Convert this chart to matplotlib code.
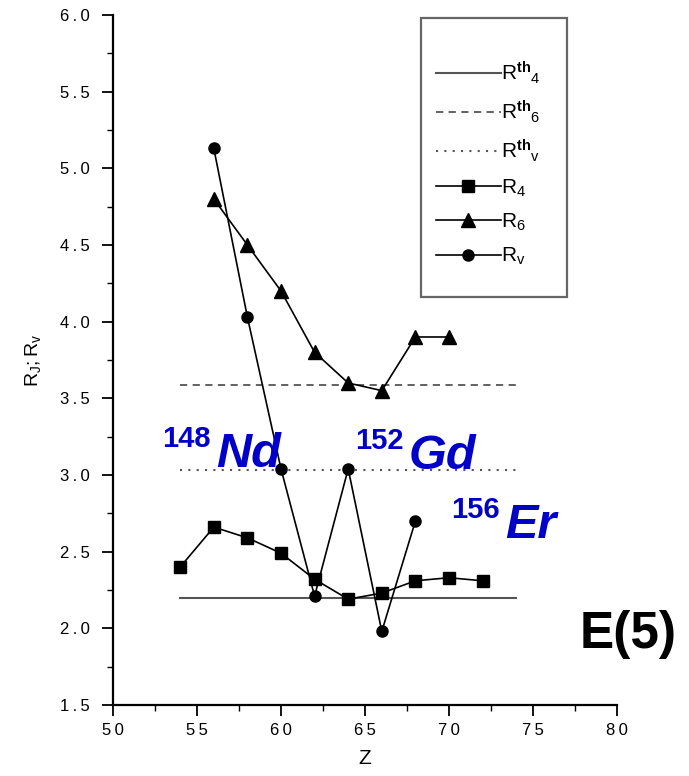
"""R_4, R_6 and R_v ratios along Z, compared with the E(5) predictions."""
import matplotlib
matplotlib.use('Agg')
import matplotlib.pyplot as plt
from matplotlib.patches import Rectangle
from matplotlib.ticker import MultipleLocator, FuncFormatter

plt.rcParams['font.family'] = ['Liberation Sans', 'DejaVu Sans']
plt.rcParams['mathtext.fontset'] = 'custom'
plt.rcParams['mathtext.rm'] = 'Liberation Sans'
plt.rcParams['mathtext.it'] = 'Liberation Sans'
plt.rcParams['mathtext.bf'] = 'Liberation Sans:bold'

# experimental ratios
z_r4 = [54, 56, 58, 60, 62, 64, 66, 68, 70, 72]
r4 = [2.40, 2.66, 2.59, 2.49, 2.32, 2.19, 2.23, 2.31, 2.33, 2.31]
z_r6 = [56, 58, 60, 62, 64, 66, 68, 70]
r6 = [4.80, 4.50, 4.20, 3.80, 3.60, 3.55, 3.90, 3.90]
z_rv = [56, 58, 60, 62, 64, 66, 68]
rv = [5.13, 4.03, 3.04, 2.21, 3.04, 1.98, 2.70]

# E(5) predictions, drawn as flat lines over the Z range
z_th = [54, 74]
r4_th = 2.20
r6_th = 3.59
rv_th = 3.03

# isotope labels: mass number, symbol, Z and ratio where the label starts
iso_mass = ['148', '152', '156']
iso_sym = ['Nd', 'Gd', 'Er']
iso_z = [52.9, 64.4, 70.1]
iso_r = [3.18, 3.17, 2.72]


def spaced(fmt):
    # old plotting packages print tick numbers with wide letter spacing
    return FuncFormatter(lambda v, pos: '\u2009'.join(fmt % v))


fig = plt.figure(figsize=(6.89, 7.76), dpi=100)
ax = fig.add_axes([0.164, 0.0915, 0.7315, 0.8892])

gray = '#555555'
ax.plot(z_th, [r4_th] * 2, color=gray, lw=1.5, label=r'$\mathrm{R}^{\mathbf{th}}{}_{4}$')
ax.plot(z_th, [r6_th] * 2, color=gray, lw=1.3, ls=(0, (4, 3)), label=r'$\mathrm{R}^{\mathbf{th}}{}_{6}$')
ax.plot(z_th, [rv_th] * 2, color=gray, lw=1.5, ls=(0, (1, 3)), label=r'$\mathrm{R}^{\mathbf{th}}{}_{\mathrm{v}}$')
ax.plot(z_r4, r4, color='black', lw=1.2, marker='s', ms=8, label=r'$\mathrm{R}_{4}$')
ax.plot(z_r6, r6, color='black', lw=1.2, marker='^', ms=9.5, label=r'$\mathrm{R}_{6}$')
ax.plot(z_rv, rv, color='black', lw=1.2, marker='o', ms=8, label=r'$\mathrm{R}_{\mathrm{v}}$')

ax.set_xlim(50, 80)
ax.set_ylim(1.5, 6.0)
ax.xaxis.set_major_locator(MultipleLocator(5))
ax.xaxis.set_minor_locator(MultipleLocator(2.5))
ax.yaxis.set_major_locator(MultipleLocator(0.5))
ax.yaxis.set_minor_locator(MultipleLocator(0.25))
ax.xaxis.set_major_formatter(spaced('%d'))
ax.yaxis.set_major_formatter(spaced('%.1f'))
for side in ('top', 'right'):
    ax.spines[side].set_visible(False)
for side in ('left', 'bottom'):
    ax.spines[side].set_linewidth(1.6)
ax.tick_params(which='major', direction='out', length=8, width=1.3, labelsize=12, pad=5)
ax.tick_params(axis='y', which='major', pad=9)
ax.tick_params(which='minor', direction='out', length=4, width=1.0)
ax.set_xlabel('Z', fontsize=15, labelpad=8)
ax.set_ylabel(r'$\mathrm{R_{J};R_{v}}$', fontsize=14, labelpad=12)

# legend box drawn on its own so its size can be set freely
ax.add_patch(Rectangle((0.611, 0.591), 0.290, 0.405, transform=ax.transAxes,
                       fill=False, edgecolor='#666666', lw=1.6, zorder=5))
leg = ax.legend(loc='upper left', bbox_to_anchor=(0.641, 0.936), fontsize=15,
                handlelength=3.1, handletextpad=0.0, labelspacing=0.62,
                borderpad=0, borderaxespad=0, frameon=False)

blue = '#0000C8'
for mass, sym, zx, yy in zip(iso_mass, iso_sym, iso_z, iso_r):
    t = ax.text(zx, yy, mass, color=blue, fontsize=21, fontweight='bold',
                va='baseline', ha='left')
    ax.annotate(sym, xycoords=t, xy=(1, 0), xytext=(4, -10), textcoords='offset points',
                color=blue, fontsize=35, fontweight='bold', fontstyle='italic',
                va='baseline', ha='left')

ax.text(77.8, 1.87, 'E(5)', fontsize=37, fontweight='heavy', color='black',
        ha='left', va='baseline')

fig.savefig('out.png', dpi=100)
